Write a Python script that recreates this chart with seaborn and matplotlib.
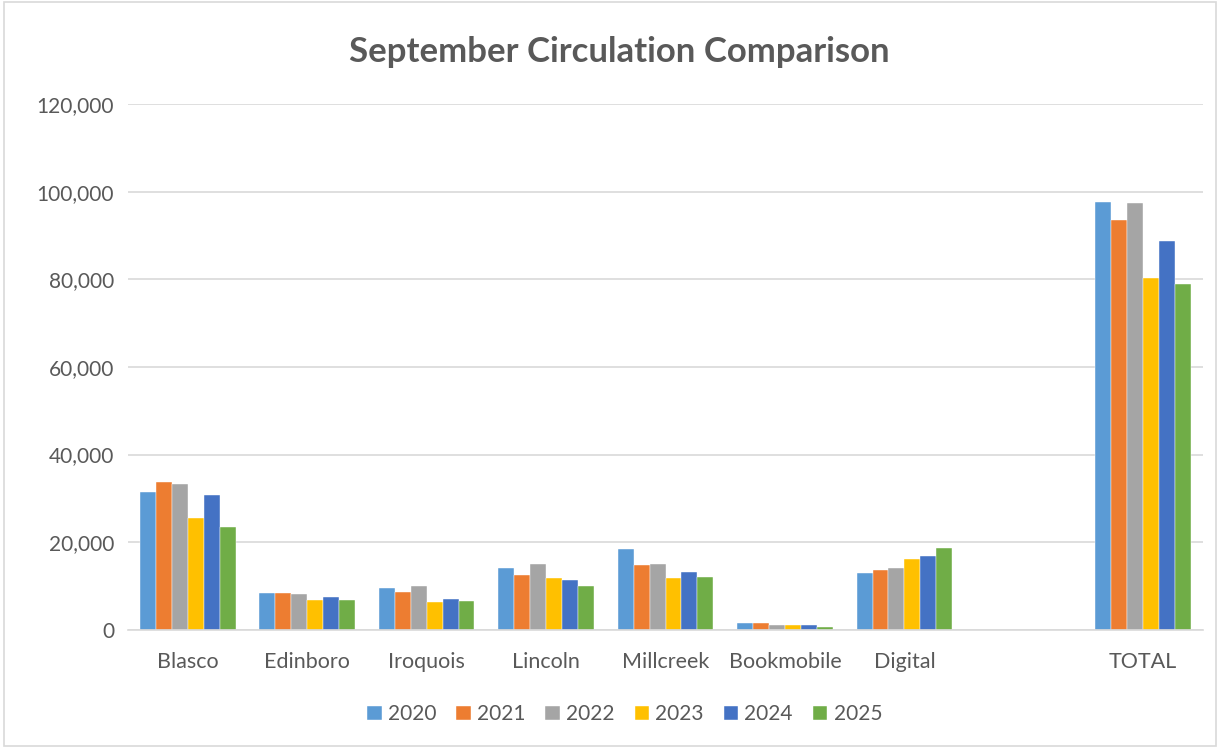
import pandas as pd
import numpy as np
import matplotlib.pyplot as plt
import seaborn as sns
from matplotlib.ticker import FuncFormatter
from matplotlib.patches import Rectangle

sns.set_theme(style="white")
plt.rcParams['font.family'] = ['Lato', 'DejaVu Sans']

# Data
branches = ["Blasco", "Edinboro", "Iroquois", "Lincoln", "Millcreek",
            "Bookmobile", "Digital", " ", "TOTAL"]
years = ["2020", "2021", "2022", "2023", "2024", "2025"]

y2020 = [31540, 8440, 9580, 14140, 18540, 1600, 13070, np.nan, 97720]
y2021 = [33680, 8360, 8670, 12470, 14750, 1520, 13610, np.nan, 93620]
y2022 = [33220, 8130, 9960, 15050, 15050, 1070, 14210, np.nan, 97420]
y2023 = [25470, 6840, 6310, 11860, 11860, 1070, 16190, np.nan, 80320]
y2024 = [30790, 7600, 7070, 11330, 13230, 1070, 16880, np.nan, 88690]
y2025 = [23490, 6770, 6690, 10110, 12090, 530, 18630, np.nan, 79030]

colors = ["#5B9BD5", "#ED7D31", "#A5A5A5", "#FFC000", "#4472C4", "#70AD47"]

# Long form for seaborn
rows = []
for year, vals in zip(years, [y2020, y2021, y2022, y2023, y2024, y2025]):
    for b, v in zip(branches, vals):
        rows.append({"Branch": b, "Year": year, "Circulation": v})
df = pd.DataFrame(rows)

fig = plt.figure(figsize=(12.2, 7.48), dpi=100)
ax = fig.add_axes([0.105, 0.158, 0.881, 0.703])

sns.barplot(data=df, x="Branch", y="Circulation", hue="Year", order=branches,
            hue_order=years, palette=colors, width=0.8, saturation=1,
            edgecolor="white", linewidth=0.3, ax=ax, errorbar=None)

ax.set_ylim(0, 120000)
ax.set_yticks(np.arange(0, 120001, 20000))
ax.yaxis.set_major_formatter(FuncFormatter(lambda v, p: f"{int(v):,}"))
ax.set_xlim(-0.5, len(branches) - 0.5)
ax.grid(axis="y", color="#D9D9D9", linewidth=1.2)
ax.set_axisbelow(True)
for s in ["top", "right", "left"]:
    ax.spines[s].set_visible(False)
ax.spines["bottom"].set_color("#D9D9D9")
ax.spines["bottom"].set_linewidth(1.2)
ax.tick_params(axis="both", length=0, colors="#595959")
ax.tick_params(axis="x", pad=16, labelsize=15.5)
ax.tick_params(axis="y", pad=10, labelsize=15)
ax.set_xlabel("")
ax.set_ylabel("")

fig.suptitle("September Circulation Comparison", x=0.508, y=0.952,
             fontsize=25, fontweight="bold", color="#595959")

fig.legend(*ax.get_legend_handles_labels(), loc="center", bbox_to_anchor=(0.512, 0.045),
           ncol=6, frameon=False, fontsize=15, handlelength=0.7, handleheight=0.7,
           handletextpad=0.3, columnspacing=0.95, labelcolor="#595959")
ax.get_legend().remove()

# chart border
fig.patches.append(Rectangle((0.003, 0.003), 0.994, 0.994, transform=fig.transFigure,
                             fill=False, edgecolor="#D9D9D9", linewidth=1.2))

fig.savefig("out.png", dpi=100)
